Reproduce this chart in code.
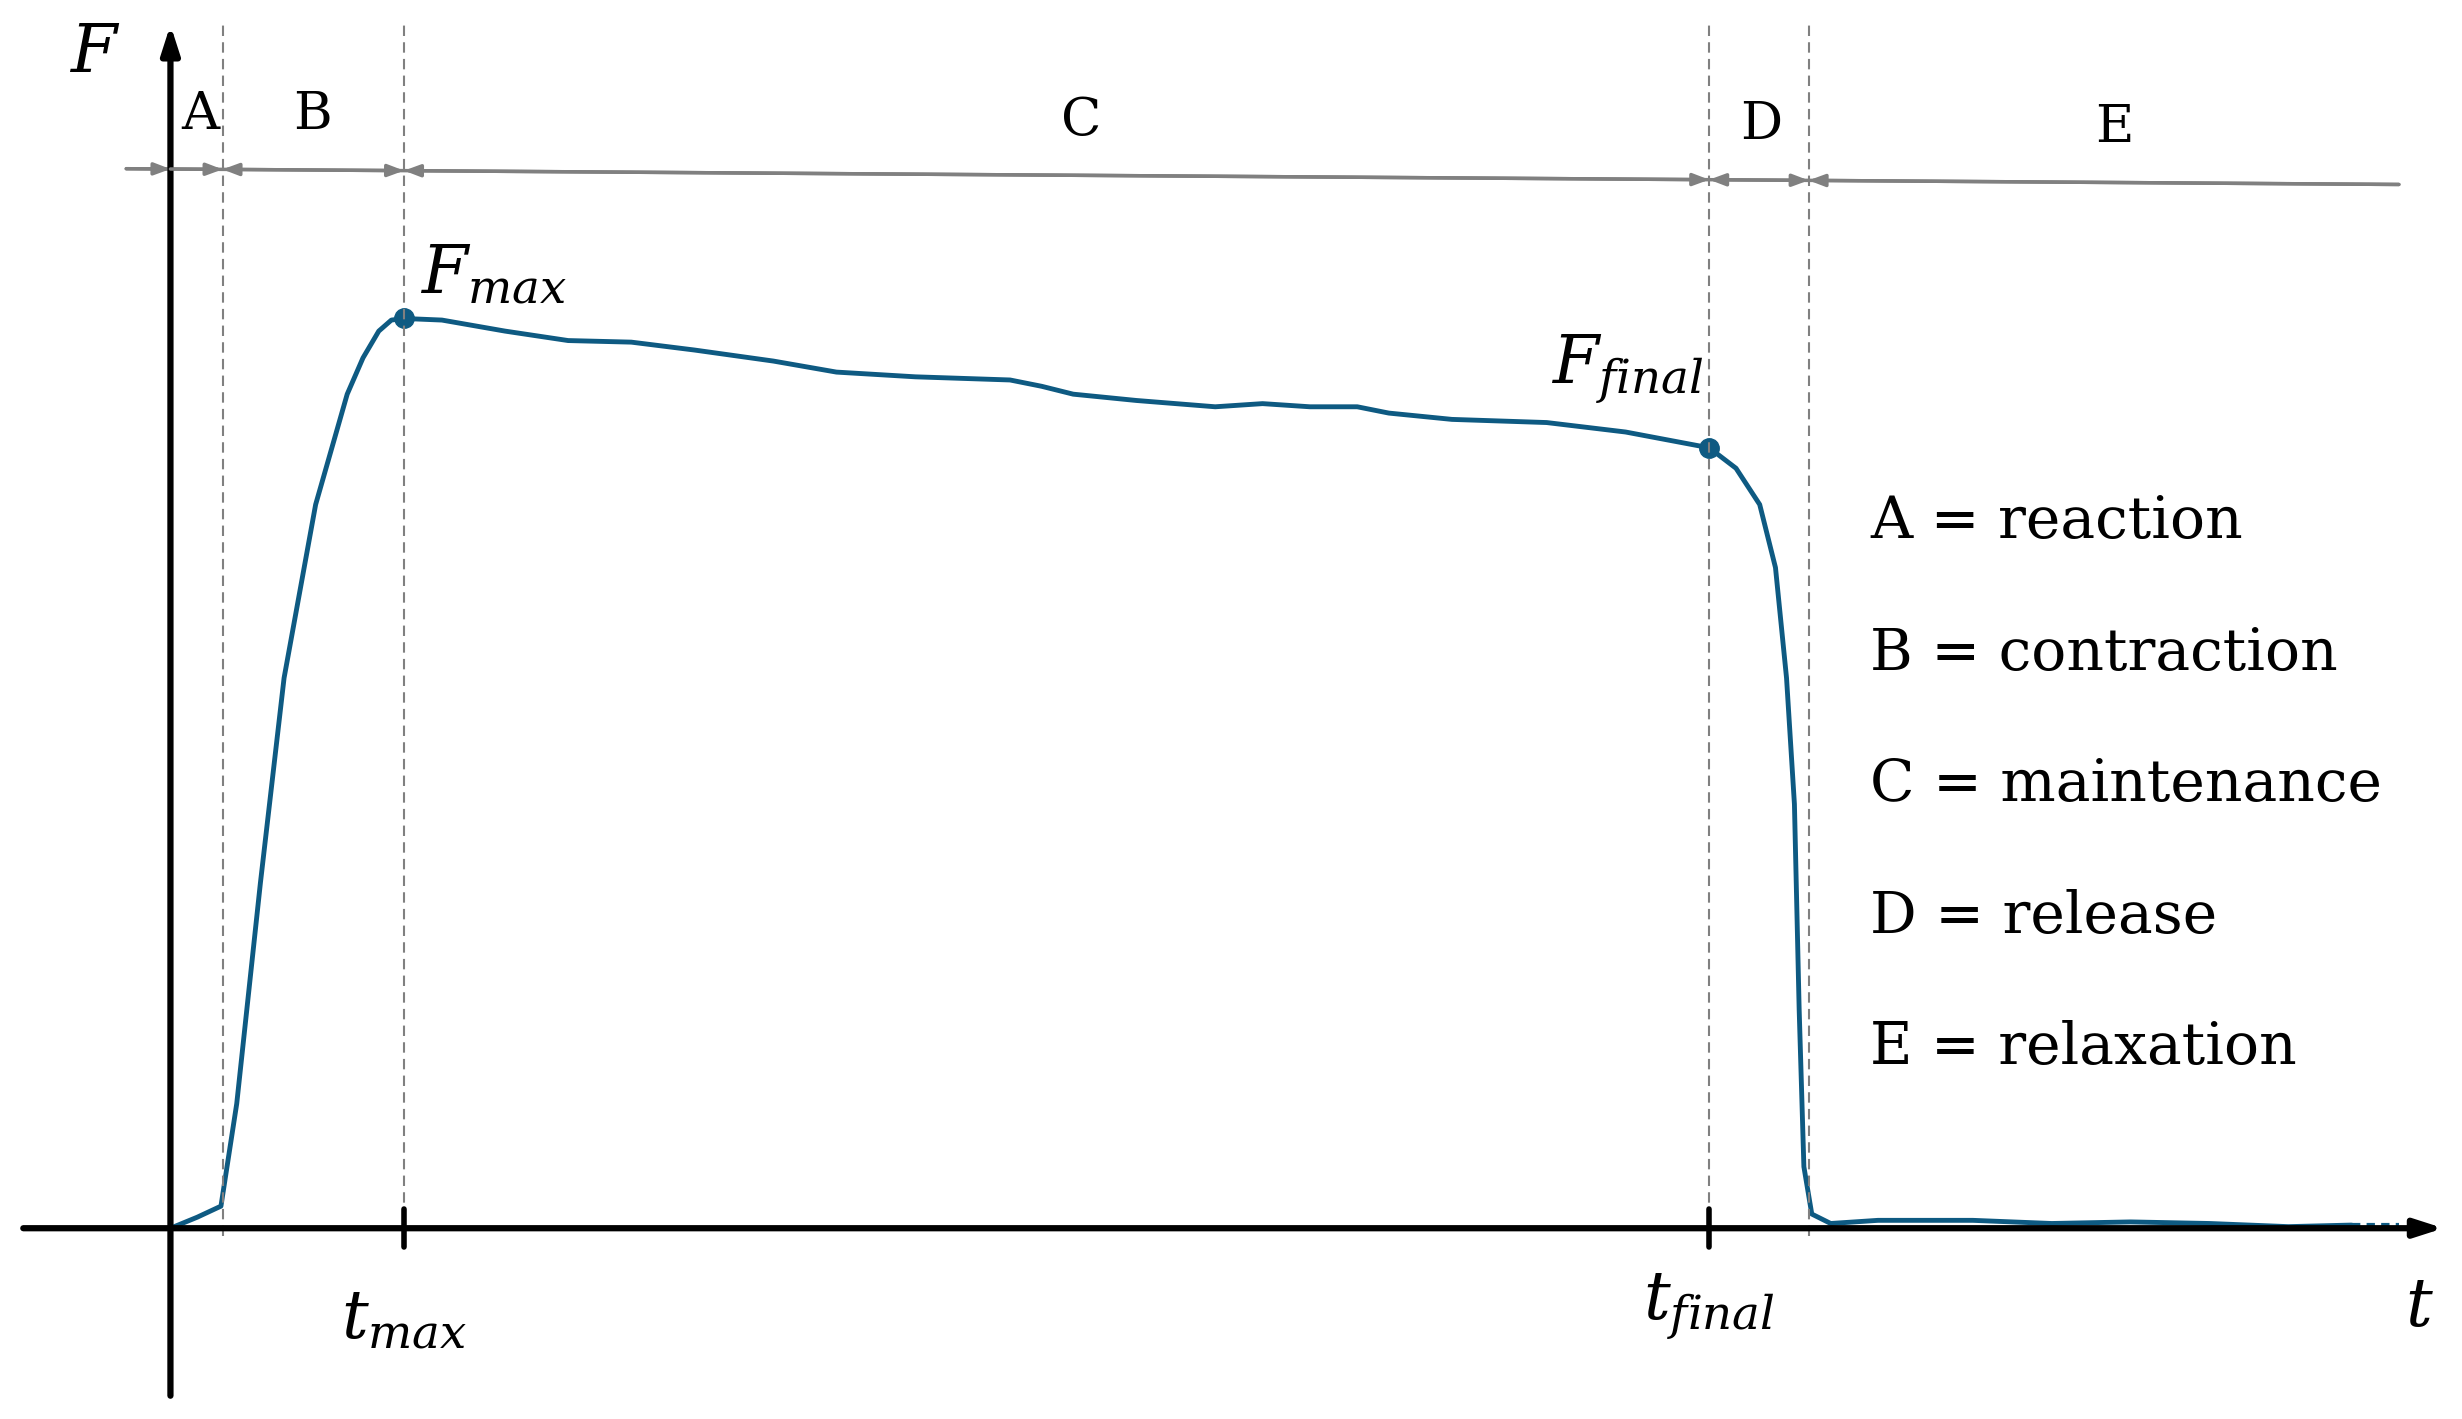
import numpy as np, pandas as pd, seaborn as sns, matplotlib
matplotlib.use("Agg")
import matplotlib.pyplot as plt

# curve (t, F)
t_vals = [0.0,0.17,0.32,0.42,0.57,0.72,0.92,1.12,1.22,1.32,1.40,1.48,1.72,2.12,2.52,2.92,3.32,3.82,4.22,4.72,5.32,5.52,5.72,6.12,6.62,6.92,7.22,7.52,7.72,8.12,8.72,9.22,9.75,9.92,10.07,10.17,10.24,10.29,10.32,10.35,10.40,10.52,10.82,11.42,11.92,12.42,12.92,13.42,13.82]
F_vals = [0.0,0.07,0.14,0.79,2.19,3.49,4.59,5.29,5.52,5.69,5.76,5.77,5.76,5.69,5.63,5.62,5.57,5.50,5.43,5.40,5.38,5.34,5.29,5.25,5.21,5.23,5.21,5.21,5.17,5.13,5.11,5.05,4.95,4.82,4.59,4.19,3.49,2.69,1.39,0.39,0.09,0.03,0.05,0.05,0.03,0.04,0.03,0.01,0.02]
tail_t = [13.82, 14.12]
tail_F = [0.02, 0.02]
boundaries = [0.33, 1.48, 9.75, 10.38]
phase_letters = ["A","B","C","D","E"]
phase_label_t = [0.19, 0.90, 5.77, 10.08, 12.32]
legend_lines = ["A = reaction","B = contraction","C = maintenance","D = release","E = relaxation"]

sns.set_theme(style="white")
plt.rcParams['font.family'] = ['DejaVu Serif']
plt.rcParams['mathtext.fontset'] = 'dejavuserif'
plt.rcParams['text.color'] = 'black'
fig = plt.figure(figsize=(24.62,14.19), dpi=100)
ax = fig.add_axes([0,0,1,1])
ax.set_xlim(-1.08,14.52); ax.set_ylim(-1.21,7.79)
ax.axis('off')
col = "#0e5a82"
df = pd.DataFrame({"t":t_vals,"F":F_vals})
sns.lineplot(data=df,x="t",y="F",ax=ax,color=col,lw=3.5,sort=False)
ax.plot(tail_t,tail_F,color=col,lw=3,ls=(0,(2,1.5)))
ax.plot([1.48,9.75],[5.77,4.95],'o',color=col,ms=14)

# axes arrows
ax.annotate("",xy=(14.42,0),xytext=(-0.95,0),arrowprops=dict(arrowstyle="-|>,head_length=1.4,head_width=0.45",lw=4.5,color='black'))
ax.annotate("",xy=(0,7.65),xytext=(0,-1.08),arrowprops=dict(arrowstyle="-|>,head_length=1.4,head_width=0.45",lw=4.5,color='black'))
ax.text(-0.48,7.45,"$F$",fontsize=48,ha='center',va='center')
ax.text(14.25,-0.5,"$t$",fontsize=48,ha='center',va='center')

# boundaries
for b in boundaries:
    ax.plot([b,b],[-0.05,7.65],color='gray',lw=1.5,ls=(0,(5,3)))
for b in [1.48,9.75]:
    ax.plot([b,b],[-0.12,0.12],color='black',lw=4)
ax.text(1.48,-0.58,"$t_{max}$",fontsize=48,ha='center',va='center')
ax.text(9.75,-0.5,"$t_{final}$",fontsize=48,ha='center',va='center')
ax.text(1.58,6.05,"$F_{max}$",fontsize=48,ha='left',va='center')
ax.text(8.75,5.45,"$F_{final}$",fontsize=48,ha='left',va='center')

# phase line
def yline(t): return 6.72 - (t+0.28)/14.4*0.10
ax.plot([-0.28,14.12],[yline(-0.28),yline(14.12)],color='gray',lw=2.5)
segs = [(0,0.33),(0.33,1.48),(1.48,9.75),(9.75,10.38),(10.38,14.12)]
ax.annotate("",xy=(0,yline(0)),xytext=(-0.28,yline(-0.28)),arrowprops=dict(arrowstyle="-|>,head_length=0.8,head_width=0.3",color='gray',lw=2.5,shrinkA=0,shrinkB=0))
for i,(a,b) in enumerate(segs):
    if i == 0:
        style = "-|>,head_length=0.8,head_width=0.3"
    elif i < 4:
        style = "<|-|>,head_length=0.8,head_width=0.3"
    else:
        style = "<|-,head_length=0.8,head_width=0.3"
    ax.annotate("",xy=(b,yline(b)),xytext=(a,yline(a)),arrowprops=dict(arrowstyle=style,color='gray',lw=2.5,shrinkA=0,shrinkB=0))
    ax.text(phase_label_t[i],yline(phase_label_t[i])+0.35,phase_letters[i],fontsize=38,ha='center',va='center')

for i,s in enumerate(legend_lines):
    ax.text(10.77,4.48-i*0.835,s,fontsize=42,ha='left',va='center')

fig.savefig("out.png",dpi=100)
